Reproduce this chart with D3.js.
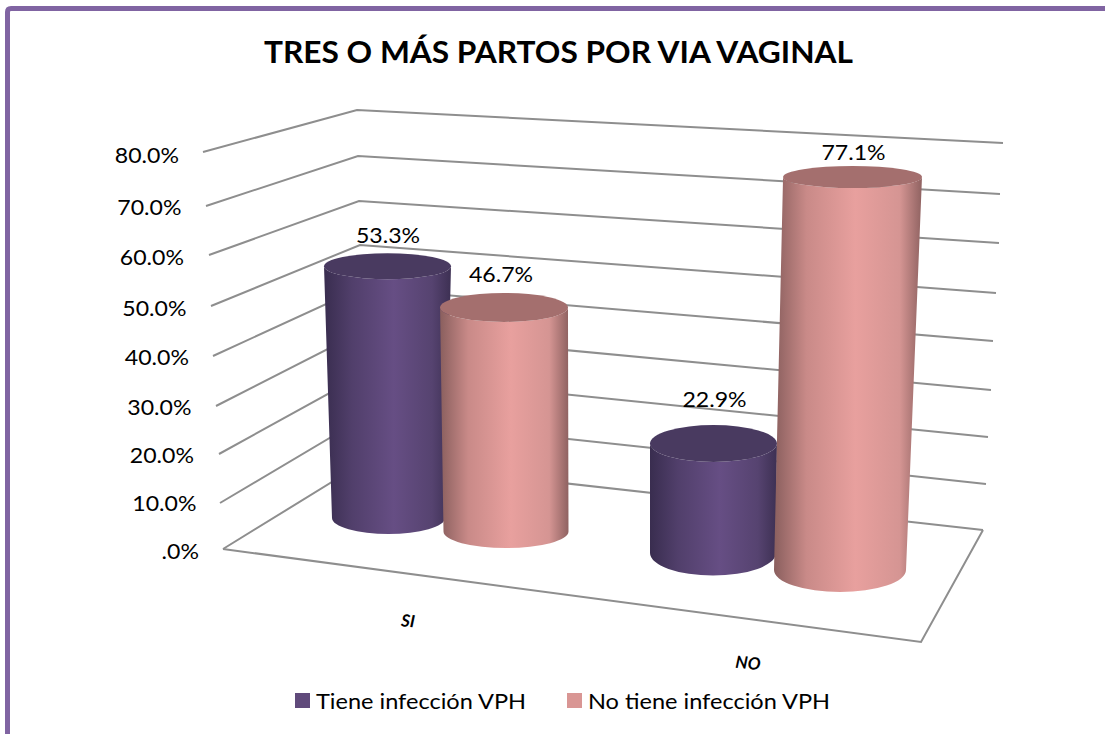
<!DOCTYPE html>
<html>
<head>
<meta charset="utf-8">
<script src="https://cdn.jsdelivr.net/npm/d3@7/dist/d3.min.js"></script>
<style>
html,body{margin:0;padding:0;background:#fff;overflow:hidden}
svg{display:block}
text{font-family:Lato,"Open Sans",sans-serif;fill:#000}
</style>
</head>
<body>
<svg id="chart" width="1105" height="734"></svg>
<script>
// ---- data ----
const title = "TRES O MÁS PARTOS POR VIA VAGINAL";
const categories = ["SI", "NO"];
const seriesNames = ["Tiene infección VPH", "No tiene infección VPH"];
const tieneValues = [53.3, 22.9];
const noTieneValues = [46.7, 77.1];
const tickValues = [0, 10, 20, 30, 40, 50, 60, 70, 80];

// ---- wall / floor projection (pixel calibration, one entry per tick) ----
const leftX  = d3.scaleLinear().domain(tickValues).range([223,220,219,216,213,211,209,206,203]);
const leftY  = d3.scaleLinear().domain(tickValues).range([549,503,454,406,356,306,255,206,152]);
const backX  = d3.scaleLinear().domain(tickValues).range([366,365,364,363,361,360,359,358,357]);
const backY  = d3.scaleLinear().domain(tickValues).range([461,417,374,331,288,245,201,156,110]);
const rightX = d3.scaleLinear().domain(tickValues).range([983,986,988,991,993,996,999,1000,1003]);
const rightY = d3.scaleLinear().domain(tickValues).range([530,484,437,390,341,293,243,194,143]);
const labelR = d3.scaleLinear().domain([0,80]).range([199,179]);
const labelY = d3.scaleLinear().domain(tickValues).range([551,503,455,407,357,308,257,207,155]);

// cylinder slots: [value 0, value 80] ranges for each scale
const slot = (cx, rx, ry, y) => ({
  cx: d3.scaleLinear().domain([0,80]).range(cx),
  rx: d3.scaleLinear().domain([0,80]).range(rx),
  ry: d3.scaleLinear().domain([0,80]).range(ry),
  y:  d3.scaleLinear().domain([0,80]).range(y)
});
const slots = [
  [slot([388.5,387],[56.5,67],[16,11.5],[518,140]), slot([506,502.6],[62.5,65],[16.5,13],[531.5,147.7])],
  [slot([713,714.7],[63,64.7],[22.5,8.5],[553,170.5]), slot([840,853],[66,69.6],[22,10.6],[570,162.2])]
];
const labelShift = [[[0.5,-17.5],[-3,-18.5]],[[1,-26],[1,-14]]];

const colors = {
  legend: ["#604a7b","#d99694"],
  top: ["#493a60","#a46f6e"],
  stops: [
    ["#392d4f","#513f6b","#664e84","#564370","#3d3053"],
    ["#8a5f5e","#c98a88","#e8a09e","#d59593","#8f6261"]
  ]
};

// stretches a text horizontally by a factor, matching the reference's wide letterforms
function stretch(sel, factor) {
  sel.each(function() {
    this.setAttribute("textLength", this.getComputedTextLength() * factor);
    this.setAttribute("lengthAdjust", "spacingAndGlyphs");
  });
}

const svg = d3.select("#chart");
const defs = svg.append("defs");
colors.stops.forEach((st,i)=>{
  const g = defs.append("linearGradient").attr("id","grad"+i).attr("x1",0).attr("x2",1).attr("y1",0).attr("y2",0);
  g.selectAll("stop").data(st).join("stop")
    .attr("offset",(d,j)=>[0,0.22,0.55,0.85,1][j]).attr("stop-color",d=>d);
});

// frame
svg.append("path").attr("d","M7.5,734V12Q7.5,8.5 11,8.5H1105")
  .attr("fill","none").attr("stroke","#8064a2").attr("stroke-width",5);

// title
svg.append("text").attr("x",558.5).attr("y",62.5).attr("text-anchor","middle")
  .attr("font-size",30).attr("font-weight",700).text(title)
  .call(s=>s.attr("textLength",589).attr("lengthAdjust","spacingAndGlyphs"));

// grid
const line = d3.line();
const grid = svg.append("g").attr("fill","none").attr("stroke","#8e8e8e").attr("stroke-width",2);
grid.selectAll("path").data(tickValues).join("path")
  .attr("d",t=>line([[leftX(t),leftY(t)],[backX(t),backY(t)],[rightX(t),rightY(t)]]));
// floor front edges
grid.append("path").attr("d",line([[leftX(0),leftY(0)],[921,642],[rightX(0),rightY(0)]]));

// tick labels
const fmt = v => d3.format(".1f")(v).replace(/^0/,"") + "%";
svg.append("g").selectAll("text").data(tickValues).join("text")
  .attr("x",t=>labelR(t)).attr("y",t=>labelY(t)).attr("dy","0.35em")
  .attr("text-anchor","end").attr("font-size",22).text(fmt).call(stretch,1.05);

// cylinders
const bars = [];
categories.forEach((c,ci)=>{
  [tieneValues,noTieneValues].forEach((vals,si)=>{
    bars.push({ci,si,v:vals[ci],s:slots[ci][si],shift:labelShift[ci][si]});
  });
});
const barG = svg.append("g").selectAll("g").data(bars).join("g");
barG.append("path").attr("fill",d=>`url(#grad${d.si})`).attr("d",d=>{
  const s=d.s, v=d.v;
  const x0=s.cx(0), r0=s.rx(0), q0=s.ry(0), y0=s.y(0);
  const x1=s.cx(v), r1=s.rx(v), q1=s.ry(v), y1=s.y(v);
  return `M${x1-r1},${y1}L${x0-r0},${y0}A${r0},${q0} 0 0 0 ${x0+r0},${y0}L${x1+r1},${y1}A${r1},${q1} 0 0 1 ${x1-r1},${y1}Z`;
});
barG.append("ellipse").attr("fill",d=>colors.top[d.si])
  .attr("cx",d=>d.s.cx(d.v)).attr("cy",d=>d.s.y(d.v))
  .attr("rx",d=>d.s.rx(d.v)).attr("ry",d=>d.s.ry(d.v));

// value labels
svg.append("g").selectAll("text").data(bars).join("text")
  .attr("x",d=>d.s.cx(d.v)+d.shift[0])
  .attr("y",d=>d.s.y(d.v)-d.s.ry(d.v)+d.shift[1]).attr("dy","0.35em")
  .attr("text-anchor","middle").attr("font-size",22).text(d=>d3.format(".1f")(d.v)+"%").call(stretch,1.05);

// category labels
const catPos = d3.scalePoint().domain(categories).range([408,748]);
const catY = d3.scalePoint().domain(categories).range([621,663]);
svg.append("g").selectAll("text").data(categories).join("text")
  .attr("transform",d=>`translate(${catPos(d)},${catY(d)}) rotate(5)`)
  .attr("dy","0.35em").attr("text-anchor","middle")
  .attr("font-size",17).attr("font-weight",700).attr("font-style","italic").text(d=>d);

// legend
const legendX = d3.scaleOrdinal().domain(seriesNames).range([295,567]);
const leg = svg.append("g").selectAll("g").data(seriesNames).join("g")
  .attr("transform",d=>`translate(${legendX(d)},693)`);
leg.append("rect").attr("width",15).attr("height",15).attr("fill",(d,i)=>colors.legend[i]);
leg.append("text").attr("x",21).attr("y",8).attr("dy","0.35em").attr("font-size",22).text(d=>d).call(stretch,1.07);
</script>
</body>
</html>
